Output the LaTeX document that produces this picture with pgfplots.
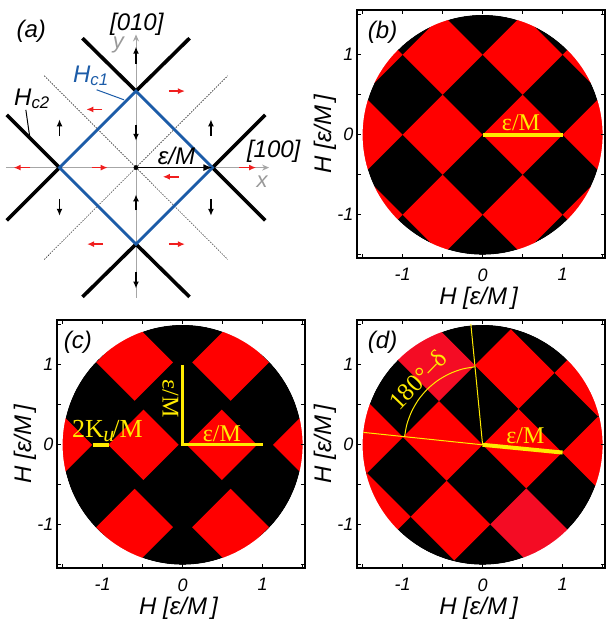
\documentclass[border=0pt]{standalone}
\usepackage{fontspec}
\setmainfont{Liberation Sans}
\newfontfamily\serif{Liberation Serif}
\usepackage{pgfplots}
\pgfplotsset{compat=1.18}
\usetikzlibrary{arrows.meta}
\definecolor{myred}{RGB}{255,0,0}
\definecolor{pinkred}{RGB}{244,12,36}
\definecolor{yel}{RGB}{255,235,0}
\definecolor{hblue}{RGB}{28,92,168}
\definecolor{arrred}{RGB}{240,30,30}
\newcommand{\fs}[1]{\fontsize{#1}{#1}\selectfont}
\pgfplotsset{
 panel/.style={
  scale only axis, width=248pt, height=248pt,
  xmin=-1.57, xmax=1.53, ymin=-1.54, ymax=1.56,
  axis on top,
  axis line style={line width=1.6pt},
  tick style={line width=0.8pt, black},
  tick align=inside,
  major tick length=4pt, minor tick length=4pt,
  xtick={-1,0,1}, ytick={-1,0,1},
  xticklabels={-1,0,1}, yticklabels={-1,0,1},
  minor xtick={-1.5,-0.5,0.5,1.5}, minor ytick={-1.5,-0.5,0.5,1.5},
  ticklabel style={font=\fs{18}\itshape},
  xticklabel style={yshift=-7pt},
  xlabel={H [ε/M\,]}, ylabel={H [ε/M\,]},
  label style={font=\fs{24}\itshape},
  xlabel style={at={(axis description cs:0.49,-0.163)}, anchor=center},
  ylabel style={at={(axis description cs:-0.129,0.5)}, anchor=center},
 },
 dia/.style={fill=myred, draw=none},
 dib/.style={fill=pinkred, draw=none},
 sar/.style={black, line width=1.5pt, -{Latex[length=7pt,width=6pt]}},
 rar/.style={arrred, line width=1.6pt, -{Latex[length=7pt,width=6pt]}},
 hc/.style={black, line width=3.6pt},
}
\newcommand{\disk}{\fill[black] (axis cs:0,0) circle[radius=120pt];}
\newcommand{\mask}{\fill[white, even odd rule] (axis cs:-1.8,-1.8) rectangle (axis cs:1.8,1.8) (axis cs:0,0) circle[radius=120pt];}
\begin{document}
\begin{tikzpicture}
\useasboundingbox (0,0) rectangle (606pt,622pt);

% ---------------- (a)
\begin{axis}[at={(0pt,322pt)}, anchor=south west, scale only axis, width=300pt, height=300pt,
  xmin=-1.778, xmax=2.144, ymin=-1.73, ymax=2.19, axis lines=none, clip=false]
\addplot[gray!70, line width=1pt, -{Stealth[length=7pt,width=6pt]}] coordinates {(-1.70,0) (1.74,0)};
\addplot[gray!70, line width=1pt, -{Stealth[length=7pt,width=6pt]}] coordinates {(0,-1.70) (0,1.74)};
\addplot[black, line width=0.5pt, dash pattern=on 1.5pt off 1.2pt] coordinates {(-1.2,1.2) (1.2,-1.2)};
\addplot[black, line width=0.5pt, dash pattern=on 1.5pt off 1.2pt] coordinates {(-1.2,-1.2) (1.2,1.2)};
\addplot[hc] coordinates {(-0.7,1.69) (0,1) (0.7,1.69)};
\addplot[hc] coordinates {(1.69,0.69) (1,0) (1.69,-0.69)};
\addplot[hc] coordinates {(-1.69,0.69) (-1,0) (-1.69,-0.69)};
\addplot[hc] coordinates {(-0.7,-1.69) (0,-1) (0.7,-1.69)};
\addplot[hblue, line width=2.8pt] coordinates {(0.5,0.5) (1,0) (0,-1) (-1,0) (0,1) (0.5,0.5)};
\addplot[black, line width=1.6pt, -{Latex[length=9pt,width=7pt]}] coordinates {(0,0) (1,0)};
\addplot[black, only marks, mark=*, mark size=2.2pt] coordinates {(0,0)};
% black arrows
\addplot[sar] coordinates {(-1.0,0.41) (-1.0,0.63)};
\addplot[sar] coordinates {(-1.0,-0.41) (-1.0,-0.63)};
\addplot[sar] coordinates {(0.98,0.41) (0.98,0.63)};
\addplot[sar] coordinates {(0.98,-0.41) (0.98,-0.63)};
\addplot[sar] coordinates {(0,1.36) (0,1.58)};
\addplot[sar] coordinates {(0,0.56) (0,0.35)};
\addplot[sar] coordinates {(0,-0.56) (0,-0.35)};
\addplot[sar] coordinates {(0,-1.36) (0,-1.58)};
% red arrows
\addplot[rar] coordinates {(0.43,1.0) (0.64,1.0)};
\addplot[rar] coordinates {(-0.44,0.76) (-0.65,0.76)};
\addplot[rar] coordinates {(-1.38,0) (-1.60,0)};
\addplot[rar] coordinates {(-0.58,0) (-0.37,0)};
\addplot[rar] coordinates {(0.56,-0.12) (0.35,-0.12)};
\addplot[rar] coordinates {(1.35,0) (1.57,0)};
\addplot[rar] coordinates {(-0.43,-1.0) (-0.64,-1.0)};
\addplot[rar] coordinates {(0.43,-1.0) (0.64,-1.0)};
% leaders
\addplot[hblue, line width=1pt] coordinates {(-0.515,1.017) (-0.157,0.886)};
\addplot[black, line width=1pt] coordinates {(-1.44,0.755) (-1.39,0.406)};
\node[font=\fs{24}\itshape] at (axis cs:-1.37,1.78) {(a)};
\node[font=\fs{24}\itshape] at (axis cs:0.01,1.87) {[010]};
\node[font=\fs{22}\itshape, text=gray!80] at (axis cs:-0.23,1.60) {y};
\node[font=\fs{24}\itshape] at (axis cs:1.80,0.21) {[100]};
\node[font=\fs{22}\itshape, text=gray!80] at (axis cs:1.65,-0.18) {x};
\node[font=\fs{24}\itshape] at (axis cs:0.53,0.15) {ε/M};
\node[font=\fs{24}\itshape, text=hblue] at (axis cs:-0.59,1.20) {H\textsubscript{c1}};
\node[font=\fs{24}\itshape] at (axis cs:-1.36,0.90) {H\textsubscript{c2}};
\end{axis}

% ---------------- (b)
\begin{axis}[panel, at={(357pt,364pt)}, anchor=south west]
\disk
\addplot[dia] coordinates {(0,0) (0.5,0.5) (1,0) (0.5,-0.5)};
\addplot[dia] coordinates {(-1,0) (-0.5,0.5) (0,0) (-0.5,-0.5)};
\addplot[dia] coordinates {(1,0) (1.5,0.5) (2,0) (1.5,-0.5)};
\addplot[dia] coordinates {(-2,0) (-1.5,0.5) (-1,0) (-1.5,-0.5)};
\addplot[dia] coordinates {(0,1) (0.5,1.5) (1,1) (0.5,0.5)};
\addplot[dia] coordinates {(-1,1) (-0.5,1.5) (0,1) (-0.5,0.5)};
\addplot[dia] coordinates {(0,-1) (0.5,-0.5) (1,-1) (0.5,-1.5)};
\addplot[dia] coordinates {(-1,-1) (-0.5,-0.5) (0,-1) (-0.5,-1.5)};
\addplot[dia] coordinates {(1,1) (1.5,1.5) (2,1) (1.5,0.5)};
\addplot[dia] coordinates {(-2,1) (-1.5,1.5) (-1,1) (-1.5,0.5)};
\addplot[dia] coordinates {(1,-1) (1.5,-0.5) (2,-1) (1.5,-1.5)};
\addplot[dia] coordinates {(-2,-1) (-1.5,-0.5) (-1,-1) (-1.5,-1.5)};
\mask
\addplot[yel, line width=3.5pt] coordinates {(0,0) (1,0)};
\node[text=yel, font=\serif\fs{24}, anchor=base] at (axis cs:0.48,0.055) {ε/M};
\node[font=\fs{24}\itshape] at (axis cs:-1.25,1.28) {(b)};
\end{axis}

% ---------------- (c)
\begin{axis}[panel, at={(57pt,54pt)}, anchor=south west]
\disk
\addplot[dia] coordinates {(-1.08,1.03) (-0.6,1.51) (-0.12,1.03) (-0.6,0.55)};
\addplot[dia] coordinates {(0.12,1.03) (0.6,1.51) (1.08,1.03) (0.6,0.55)};
\addplot[dia] coordinates {(-1.08,-1.03) (-0.6,-0.55) (-0.12,-1.03) (-0.6,-1.51)};
\addplot[dia] coordinates {(0.12,-1.03) (0.6,-0.55) (1.08,-1.03) (0.6,-1.51)};
\addplot[dia] coordinates {(-0.93,0) (-0.49,0.44) (-0.05,0) (-0.49,-0.44)};
\addplot[dia] coordinates {(0.05,0) (0.49,0.44) (0.93,0) (0.49,-0.44)};
\addplot[dia] coordinates {(-2.07,0) (-1.6,0.47) (-1.13,0) (-1.6,-0.47)};
\addplot[dia] coordinates {(1.13,0) (1.6,0.47) (2.07,0) (1.6,-0.47)};
\mask
\addplot[yel, line width=3pt, line join=miter] coordinates {(0,1) (0,0) (1,0)};
\addplot[yel, line width=4pt] coordinates {(-1.12,0) (-0.92,0)};
\node[text=yel, font=\serif\fs{24}, anchor=base] at (axis cs:0.49,0.045) {ε/M};
\node[text=yel, font=\serif\fs{24}, anchor=base, rotate=-90] at (axis cs:-0.25,0.575) {ε/M};
\node[text=yel, font=\serif\fs{26}, anchor=base] at (axis cs:-0.94,0.097) {2K\kern-0.5pt\raisebox{-0.35ex}{\fs{22}\itshape u}\kern-2pt/M};
\node[font=\fs{24}\itshape] at (axis cs:-1.31,1.28) {(c)};
\end{axis}

% ---------------- (d)
\begin{axis}[panel, at={(357pt,54pt)}, anchor=south west]
\disk
\addplot[dia] coordinates {(0,0) (0.4495,0.4495) (0.995,-0.096) (0.5455,-0.5455)};
\addplot[dia] coordinates {(-0.995,0.096) (-0.5455,0.5455) (0,0) (-0.4495,-0.4495)};
\addplot[dia] coordinates {(0.995,-0.096) (1.4445,0.3535) (1.99,-0.192) (1.5405,-0.6415)};
\addplot[dia] coordinates {(-1.99,0.192) (-1.5405,0.6415) (-0.995,0.096) (-1.4445,-0.3535)};
\addplot[dia] coordinates {(-0.096,0.995) (0.3535,1.4445) (0.899,0.899) (0.4495,0.4495)};
\addplot[dib] coordinates {(-1.091,1.091) (-0.6415,1.5405) (-0.096,0.995) (-0.5455,0.5455)};
\addplot[dib] coordinates {(0.096,-0.995) (0.5455,-0.5455) (1.091,-1.091) (0.6415,-1.5405)};
\addplot[dia] coordinates {(-0.899,-0.899) (-0.4495,-0.4495) (0.096,-0.995) (-0.3535,-1.4445)};
\addplot[dia] coordinates {(0.899,0.899) (1.3485,1.3485) (1.894,0.803) (1.4445,0.3535)};
\addplot[dia] coordinates {(-2.086,1.187) (-1.6365,1.6365) (-1.091,1.091) (-1.5405,0.6415)};
\addplot[dia] coordinates {(1.091,-1.091) (1.5405,-0.6415) (2.086,-1.187) (1.6365,-1.6365)};
\addplot[dia] coordinates {(-1.894,-0.803) (-1.4445,-0.3535) (-0.899,-0.899) (-1.3485,-1.3485)};
\mask
\addplot[yel, line width=1pt] coordinates {(-1.49,0.155) (0,0) (-0.147,1.51)};
\addplot[yel, line width=1pt, smooth] coordinates {(-0.975,0.102) (-0.947,0.254) (-0.888,0.414) (-0.803,0.562) (-0.693,0.693) (-0.562,0.803) (-0.414,0.888) (-0.254,0.947) (-0.094,0.975)};
\addplot[yel, line width=4pt] coordinates {(0,0) (1.0,-0.097)};
\node[text=yel, font=\serif\fs{24}, anchor=base] at (axis cs:0.535,0.02) {ε/M};
\node[text=yel, font=\serif\fs{25}, rotate=46] at (axis cs:-0.81,0.81) {180°–δ};
\node[font=\fs{24}\itshape] at (axis cs:-1.25,1.28) {(d)};
\end{axis}
\end{tikzpicture}
\end{document}
